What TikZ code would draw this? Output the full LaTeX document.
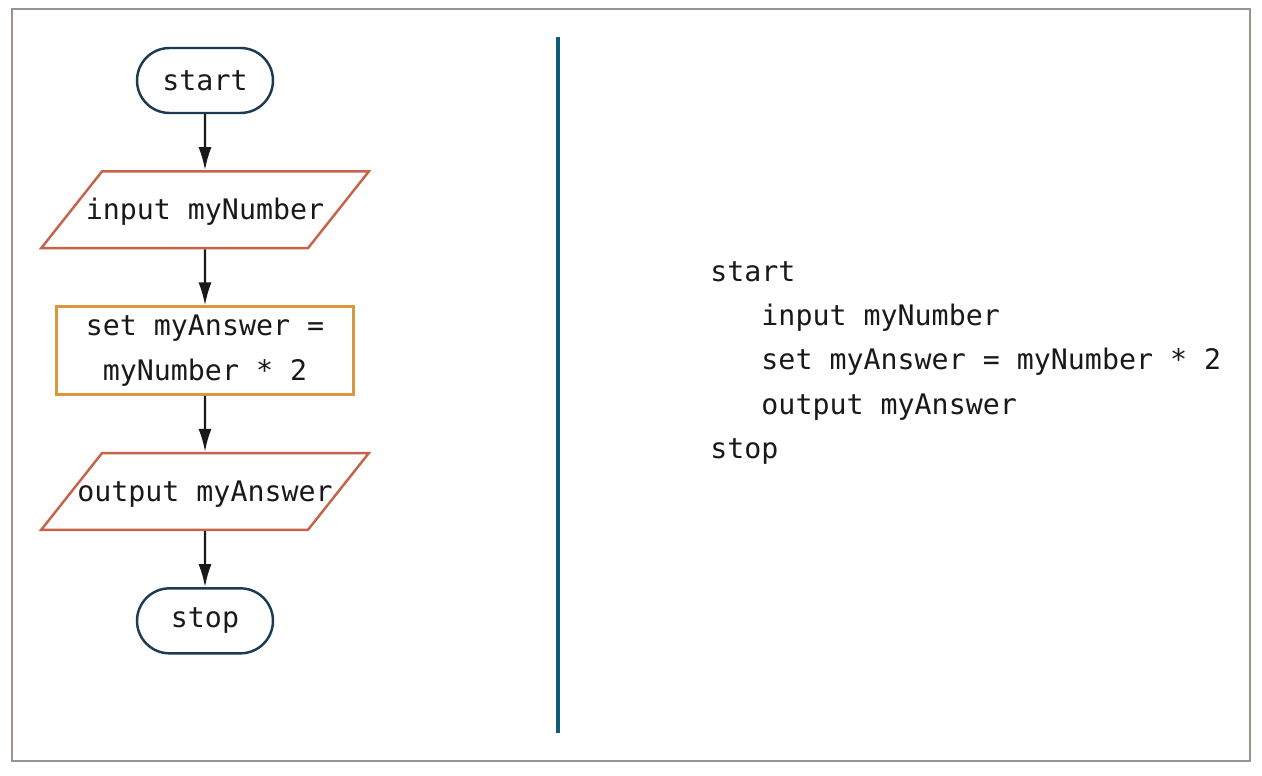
\documentclass[tikz,border=0pt]{standalone}
\usepackage{fontspec}
\setmonofont{DejaVu Sans Mono}
\usetikzlibrary{positioning, shapes.geometric, arrows.meta}
\definecolor{termcol}{HTML}{1C3A52}
\definecolor{iocol}{HTML}{C5634B}
\definecolor{proccol}{HTML}{D8993C}
\definecolor{splitcol}{HTML}{0B5D7B}
\definecolor{framecol}{HTML}{9B938D}
\newcommand{\iotext}[1]{\makebox[4.12cm][c]{#1}}
\tikzset{terminal/.style={draw=termcol, line width=1.4pt, rectangle, rounded corners=0.65cm, minimum width=2.72cm, minimum height=1.3cm}}
\tikzset{iobox/.style={draw=iocol, line width=1.4pt, trapezium, trapezium left angle=51.6, trapezium right angle=128.4, trapezium stretches body, text height=13.5pt, text depth=2.5pt, inner ysep=13.85pt, inner xsep=0pt}}
\tikzset{procbox/.style={draw=proccol, line width=1.4pt, rectangle, align=center, minimum width=5.94cm, minimum height=1.76cm}}
\tikzset{flow/.style={-{Latex[length=4.6mm,width=2.6mm]}, line width=1.3pt, black!90}}

\begin{document}
\begin{tikzpicture}[x=0.02cm, y=-0.02cm, font=\ttfamily\fontsize{16.1}{25.2}\selectfont, text=black!90, node distance=1.12cm]
            \useasboundingbox (0, 0) rectangle (1262, 776);
            \draw[framecol, line width=1.2pt] (12, 9) rectangle (1250, 761);
            \draw[splitcol, line width=2.3pt] (558, 37) -- (558, 733);
            % flowchart
            \node[terminal] (start) at (205, 80.5) {start};
            \node[iobox, below=of start] (input) {\iotext{input myNumber}};
            \node[procbox, below=of input] (calc) {set myAnswer =\\myNumber * 2};
            \node[iobox, below=of calc] (output) {\iotext{output myAnswer}};
            \node[terminal, below=of output] (stop) {stop};
            \draw[flow] (start) -- (input);
            \draw[flow] (input) -- (calc);
            \draw[flow] (calc) -- (output);
            \draw[flow] (output) -- (stop);
            % pseudocode
            \node[anchor=west, align=left, inner sep=0pt] (pseudo) at (710, 363) {start\\\phantom{xxx}input myNumber\\\phantom{xxx}set myAnswer = myNumber * 2\\\phantom{xxx}output myAnswer\\stop};
        \end{tikzpicture}
\end{document}
